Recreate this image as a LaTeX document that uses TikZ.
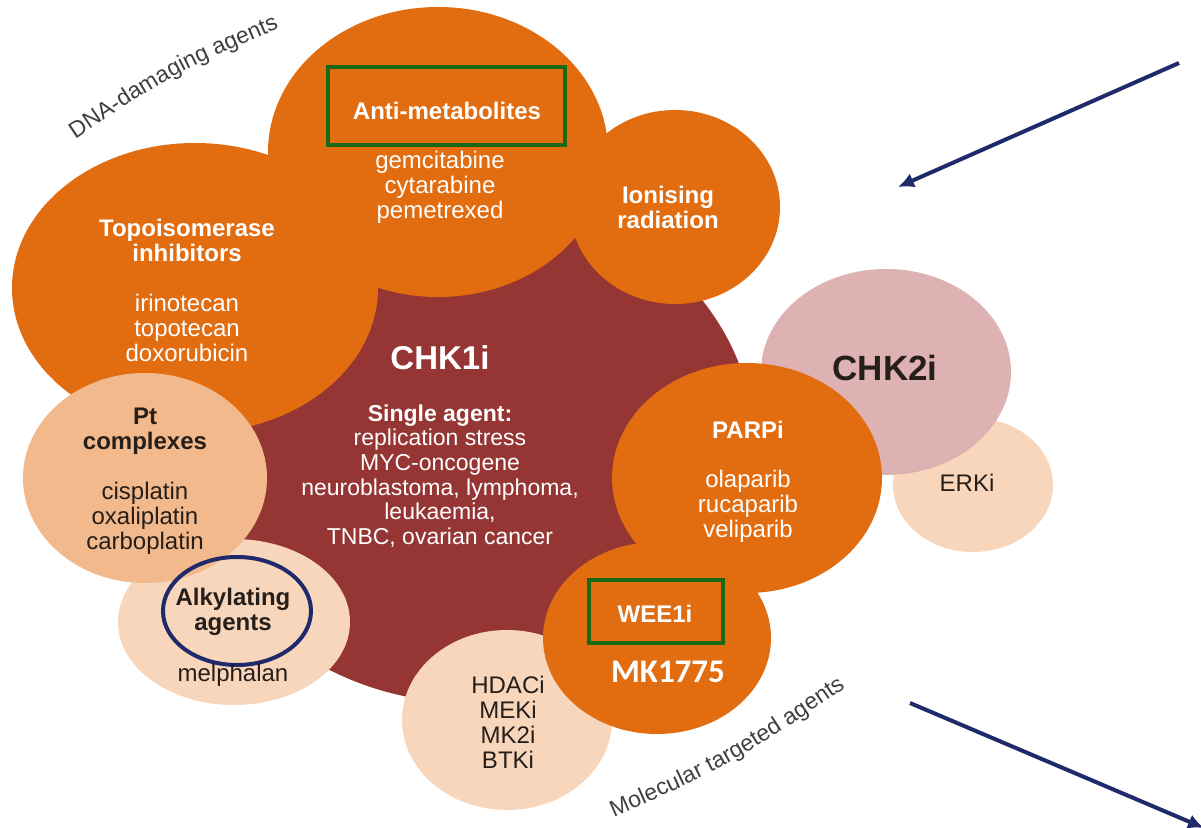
\documentclass[tikz,border=0pt]{standalone}
\usepackage{fontspec}
\setmainfont{Liberation Sans}
\newfontfamily\mkfont{Carlito}
\usepackage{tikz}
\usetikzlibrary{arrows.meta,positioning,shapes.geometric,decorations.text}
\definecolor{chkRed}{HTML}{953634}
\definecolor{deepOrange}{HTML}{E26C10}
\definecolor{softPeach}{HTML}{F1B98C}
\definecolor{lightPeach}{HTML}{F8D6BC}
\definecolor{softPink}{HTML}{DEB2B2}
\definecolor{navyLine}{HTML}{1F2A6B}
\definecolor{boxGreen}{HTML}{1B6816}
\definecolor{inkDark}{HTML}{261E19}
\definecolor{inkGray}{HTML}{404040}

\begin{document}
\begin{tikzpicture}[x=0.5pt, y=-0.5pt, >=Latex,
    bubble/.style={ellipse, inner sep=0pt, draw=none},
    heading/.style={font=\bfseries\fontsize{12}{12.5}\selectfont, align=center, inner sep=0pt},
    druglist/.style={font=\fontsize{12}{12.5}\selectfont, align=center, inner sep=0pt},
    markbox/.style={draw=boxGreen, line width=2pt, inner sep=0pt},
    pointer/.style={draw=navyLine, line width=2pt, -{Latex[length=8pt,width=7.5pt]}}]
    \useasboundingbox (0,0) rectangle (1201,828);
    \fill[white] (0,0) rectangle (1201,828);

    % bubbles, back to front
    \node[bubble, fill=chkRed, minimum width=285pt, minimum height=255pt] (chk1) at (470,448) {};
    \node[bubble, fill=lightPeach, minimum width=80pt, minimum height=67pt] (erk) at (973,485) {};
    \node[bubble, fill=softPink, minimum width=125pt, minimum height=103pt] (chk2) at (886,372) {};
    \node[bubble, fill=deepOrange, minimum width=135pt, minimum height=115pt] (parp) at (747,478) {};
    \node[bubble, fill=deepOrange, minimum width=183pt, minimum height=145pt] (topo) at (195,288) {};
    \node[bubble, fill=deepOrange, minimum width=170pt, minimum height=145pt] (antimet) at (438,152) {};
    \node[bubble, fill=deepOrange, minimum width=105pt, minimum height=97pt] (ionis) at (675,207) {};
    \node[bubble, fill=lightPeach, minimum width=116pt, minimum height=83pt] (alkyl) at (234,622) {};
    \node[bubble, fill=softPeach, minimum width=122pt, minimum height=105pt] (ptcx) at (145,478) {};
    \node[bubble, fill=lightPeach, minimum width=105pt, minimum height=90pt] (hdac) at (507,720) {};
    \node[bubble, fill=deepOrange, minimum width=114pt, minimum height=96pt] (wee1) at (657,638) {};

    % texts in the bubbles
    \node[heading, text=white] (topoHead) at (187,240) {Topoisomerase\\inhibitors};
    \node[druglist, text=white] (topoDrugs) at (187,328) {irinotecan\\topotecan\\doxorubicin};
    \node[markbox, minimum width=118.5pt, minimum height=39pt] (antiBox) at (446,106) {};
    \node[heading, text=white] (antiHead) at (447,111) {Anti-metabolites};
    \node[druglist, text=white] (antiDrugs) at (440,187) {gemcitabine\\cytarabine\\pemetrexed};
    \node[heading, text=white] (ionisHead) at (668,207) {Ionising\\radiation};
    \node[heading, text=white, font=\bfseries\fontsize{16.5}{18}\selectfont] (chk1Head) at (440,358) {CHK1i};
    \node[druglist, text=white, font=\fontsize{11.5}{12.3}\selectfont] (chk1Text) at (440,476)
        {\textbf{Single agent:}\\replication stress\\MYC-oncogene\\neuroblastoma, lymphoma,\\leukaemia,\\TNBC, ovarian cancer};
    \node[heading, text=inkDark] (ptHead) at (145,431) {Pt\\complexes};
    \node[druglist, text=inkDark] (ptDrugs) at (145,518) {cisplatin\\oxaliplatin\\carboplatin};
    \node[draw=navyLine, line width=2pt, ellipse, inner sep=0pt, minimum width=74pt, minimum height=54pt] (alkylRing) at (237,611) {};
    \node[heading, text=inkDark] (alkylHead) at (233,612) {Alkylating\\agents};
    \node[druglist, text=inkDark] (alkylDrug) at (233,675) {melphalan};
    \node[heading, text=white] (parpHead) at (748,430) {PARPi};
    \node[druglist, text=white] (parpDrugs) at (748,506) {olaparib\\rucaparib\\veliparib};
    \node[heading, text=inkDark, font=\bfseries\fontsize{17.5}{19}\selectfont] (chk2Head) at (885,368) {CHK2i};
    \node[druglist, text=inkDark] (erkHead) at (967,483) {ERKi};
    \node[markbox, minimum width=67pt, minimum height=31.5pt] (weeBox) at (656,611.5) {};
    \node[heading, text=white] (weeHead) at (655,614) {WEE1i};
    \node[text=white, inner sep=0pt, font=\mkfont\bfseries\fontsize{16.5}{18}\selectfont] (weeDrug) at (668,672) {MK1775};
    \node[druglist, text=inkDark] (hdacList) at (508,722) {HDACi\\MEKi\\MK2i\\BTKi};

    % curved group labels
    \path[decorate, decoration={text along path, text align=center,
        text={|\color{inkGray}\fontsize{11.5}{12}\selectfont|DNA-damaging agents}}]
        (62,148) .. controls (172,74) .. (294,22);
    \path[decorate, decoration={text along path, text align=center,
        text={|\color{inkGray}\fontsize{11.5}{12}\selectfont|Molecular targeted agents}}]
        (598,824) .. controls (730,766) .. (860,678);

    % pointers
    \coordinate (topTail) at (1179,63);
    \coordinate (topTip) at (898,187);
    \coordinate (lowTail) at (910,703);
    \coordinate (lowTip) at (1204,828);
    \draw[pointer] (topTail) -- (topTip);
    \draw[pointer] (lowTail) -- (lowTip);
\end{tikzpicture}
\end{document}
